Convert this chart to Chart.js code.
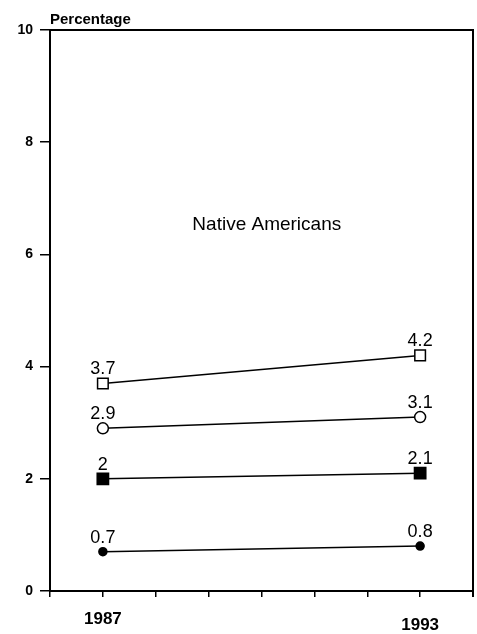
<!DOCTYPE html>
<html>
<head>
<meta charset="utf-8">
<script src="https://cdn.jsdelivr.net/npm/chart.js@4"></script>
<style>
  html, body { margin: 0; padding: 0; background: #fff; overflow: hidden; }
  #wrap { width: 477px; height: 634px; }
  canvas { display: block; }
</style>
</head>
<body>
<div id="wrap"><canvas id="chart"></canvas></div>
<script>
// Données
const years = [1987, 1993];
const openSquare = [3.7, 4.2];
const openCircle = [2.9, 3.1];
const filledSquare = [2, 2.1];
const filledCircle = [0.7, 0.8];
const yTicks = [0, 2, 4, 6, 8, 10];
const yTitle = 'Percentage';
const groupLabel = 'Native Americans';

const FONT = "'Liberation Sans', Arial, Helvetica, sans-serif";

function serie(values, style, radius, fill) {
    return {
        data: values.map((v, i) => ({ x: years[i], y: v })),
        borderColor: '#000',
        borderWidth: 1.5,
        pointStyle: style,
        pointRadius: radius,
        pointHoverRadius: radius,
        pointBackgroundColor: fill,
        pointBorderColor: '#000',
        pointBorderWidth: 1.5
    };
}

// Cadre, titre, étiquettes des valeurs
const decor = {
    id: 'decor',
    afterDraw(chart) {
        const ctx = chart.ctx;
        const a = chart.chartArea;
        const xs = chart.scales.x, ys = chart.scales.y;
        ctx.save();
        ctx.strokeStyle = '#000';
        ctx.lineWidth = 2;
        ctx.beginPath();
        ctx.moveTo(a.left, a.top);
        ctx.lineTo(a.right, a.top);
        ctx.lineTo(a.right, a.bottom + 6);
        ctx.stroke();

        ctx.fillStyle = '#000';
        ctx.font = 'bold 15px ' + FONT;
        ctx.textAlign = 'left';
        ctx.textBaseline = 'alphabetic';
        ctx.fillText(yTitle, a.left, a.top - 6);

        ctx.font = '19px ' + FONT;
        ctx.textAlign = 'center';
        ctx.textBaseline = 'middle';
        ctx.fillText(groupLabel, xs.getPixelForValue(1990.1), ys.getPixelForValue(6.53));

        ctx.font = '18px ' + FONT;
        ctx.textBaseline = 'alphabetic';
        chart.data.datasets.forEach(ds => {
            ds.data.forEach(p => {
                ctx.fillText(String(p.y), xs.getPixelForValue(p.x), ys.getPixelForValue(p.y) - 9);
            });
        });
        ctx.restore();
    }
};

new Chart(document.getElementById('chart'), {
    type: 'line',
    data: {
        datasets: [
            serie(openSquare, 'rect', 7.5, '#fff'),
            serie(openCircle, 'circle', 5.5, '#fff'),
            serie(filledSquare, 'rect', 8, '#000'),
            serie(filledCircle, 'circle', 4, '#000')
        ]
    },
    options: {
        responsive: true,
        maintainAspectRatio: false,
        animation: false,
        events: [],
        layout: { autoPadding: false, padding: { top: 30, right: 4, left: 0, bottom: 0 } },
        plugins: { legend: { display: false }, tooltip: { enabled: false } },
        scales: {
            x: {
                type: 'linear',
                min: 1986,
                max: 1994,
                afterFit: s => {
                    s.height = 43;
                    // pas de marge pour les étiquettes vides aux extrémités
                    s.paddingLeft = 0;
                    s.paddingRight = 0;
                },
                ticks: {
                    stepSize: 1,
                    autoSkip: false,
                    maxRotation: 0,
                    padding: 12,
                    color: '#000',
                    // 1993 un peu plus bas que 1987
                    font: c => ({ family: FONT, size: 17, weight: 'bold',
                                  lineHeight: c.tick && c.tick.value === 1993 ? 1.9 : 1.2 }),
                    callback: v => years.includes(v) ? String(v) : ''
                },
                grid: { drawOnChartArea: false, tickLength: 6, color: '#000', lineWidth: 1.5 },
                border: { display: true, color: '#000', width: 2 }
            },
            y: {
                min: 0,
                max: 10,
                afterFit: s => { s.width = 50; },
                afterBuildTicks: s => { s.ticks = yTicks.map(v => ({ value: v })); },
                ticks: {
                    padding: 7,
                    color: '#000',
                    font: { family: FONT, size: 14, weight: 'bold' }
                },
                grid: { drawOnChartArea: false, tickLength: 10, color: '#000', lineWidth: 1.5 },
                border: { display: true, color: '#000', width: 2 }
            }
        }
    },
    plugins: [decor]
});
</script>
</body>
</html>
